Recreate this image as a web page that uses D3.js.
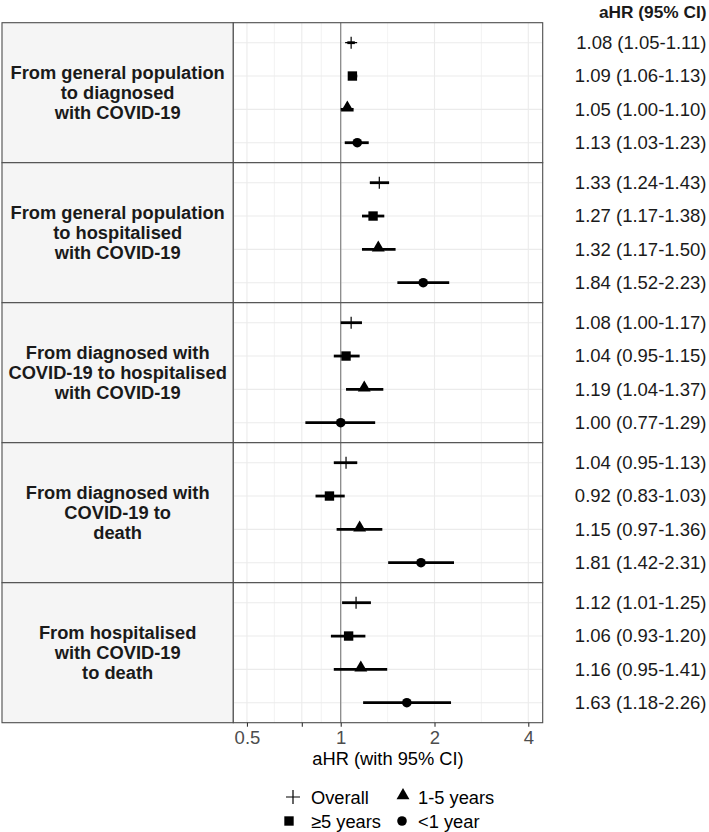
<!DOCTYPE html>
<html><head><meta charset="utf-8">
<script src="https://cdn.jsdelivr.net/npm/d3@7"></script>
<style>
body{margin:0;background:#fff;}
svg{display:block;font-family:"Liberation Sans",Arial,Helvetica,sans-serif;}
</style></head>
<body><svg id="chart" width="709" height="832"></svg>
<script>
const panels = [
  ["From general population","to diagnosed","with COVID-19"],
  ["From general population","to hospitalised","with COVID-19"],
  ["From diagnosed with","COVID-19 to hospitalised","with COVID-19"],
  ["From diagnosed with","COVID-19 to","death"],
  ["From hospitalised","with COVID-19","to death"]
];
const groups = ["Overall","≥5 years","1-5 years","<1 year"];
const hr = [
  [1.08,1.09,1.05,1.13],
  [1.33,1.27,1.32,1.84],
  [1.08,1.04,1.19,1.00],
  [1.04,0.92,1.15,1.81],
  [1.12,1.06,1.16,1.63]
];
const lo = [
  [1.05,1.06,1.00,1.03],
  [1.24,1.17,1.17,1.52],
  [1.00,0.95,1.04,0.77],
  [0.95,0.83,0.97,1.42],
  [1.01,0.93,0.95,1.18]
];
const hi = [
  [1.11,1.13,1.10,1.23],
  [1.43,1.38,1.50,2.23],
  [1.17,1.15,1.37,1.29],
  [1.13,1.03,1.36,2.31],
  [1.25,1.20,1.41,2.26]
];
const tickVals = [0.5,0.75,1,2,4];
const tickLabels = ["0.5","","1","2","4"];
const legendOrder = [["Overall","1-5 years"],["≥5 years","<1 year"]];

const svg = d3.select("#chart");
const stripL = 2, panelL = 233.3, panelR = 542.7, topY = 22.7, ph = 140;
const x = d3.scaleLog().domain([0.452,4.45]).range([panelL,panelR]);
const py = d3.scaleBand().domain(d3.range(panels.length)).range([topY, topY+ph*panels.length]);
const ry = d3.scalePoint().domain(groups).range([0,ph]).padding(0.6);

const shapeType = {"Overall":"plus","≥5 years":d3.symbolSquare,"1-5 years":d3.symbolTriangle,"<1 year":d3.symbolCircle};
const shapeSize = {"≥5 years":88,"1-5 years":72,"<1 year":72};
function drawShape(g, grp, cx, cy, r){
  r = r || 6;
  if(shapeType[grp]==="plus"){
    g.append("path").attr("d",`M${cx-r},${cy}H${cx+r}M${cx},${cy-r}V${cy+r}`)
     .attr("stroke","#000").attr("stroke-width",1.2).attr("fill","none");
  } else {
    let dy = grp==="1-5 years" ? -1.5 : 0;
    g.append("path").attr("d",d3.symbol().type(shapeType[grp]).size(shapeSize[grp])())
     .attr("transform",`translate(${cx},${cy+dy})`).attr("fill","#000");
  }
}

const minor = d3.pairs(tickVals).map(([a,b])=>Math.sqrt(a*b));

panels.forEach((lines,i)=>{
  const y0 = py(i);
  svg.append("rect").attr("x",stripL).attr("y",y0).attr("width",panelL-stripL).attr("height",ph)
    .attr("fill","#F5F5F5").attr("stroke","#4d4d4d").attr("stroke-width",1.1);
  const st = svg.append("text").attr("text-anchor","middle").attr("font-weight","bold")
    .attr("font-size",18.3).attr("fill","#1a1a1a");
  lines.forEach((t,j)=>{
    st.append("tspan").attr("x",(stripL+panelL)/2)
      .attr("y",y0+ph/2+(j-(lines.length-1)/2)*20+6.5).text(t);
  });
  svg.append("rect").attr("x",panelL).attr("y",y0).attr("width",panelR-panelL).attr("height",ph).attr("fill","#fff");
  minor.forEach(v=>{
    svg.append("line").attr("x1",x(v)).attr("x2",x(v)).attr("y1",y0).attr("y2",y0+ph)
      .attr("stroke","#F0F0F0").attr("stroke-width",0.8);
  });
  tickVals.forEach(v=>{
    svg.append("line").attr("x1",x(v)).attr("x2",x(v)).attr("y1",y0).attr("y2",y0+ph)
      .attr("stroke","#EBEBEB").attr("stroke-width",1.1);
  });
  groups.forEach(gp=>{
    svg.append("line").attr("x1",panelL).attr("x2",panelR).attr("y1",y0+ry(gp)).attr("y2",y0+ry(gp))
      .attr("stroke","#EBEBEB").attr("stroke-width",1.1);
  });
  svg.append("line").attr("x1",x(1)).attr("x2",x(1)).attr("y1",y0).attr("y2",y0+ph)
    .attr("stroke","#7a7a7a").attr("stroke-width",1.1);
  const g = svg.append("g");
  groups.forEach((gp,k)=>{
    const cy = y0+ry(gp);
    g.append("line").attr("x1",x(lo[i][k])).attr("x2",x(hi[i][k])).attr("y1",cy).attr("y2",cy)
      .attr("stroke","#000").attr("stroke-width",2.8);
    drawShape(g,gp,x(hr[i][k]),cy);
    svg.append("text").attr("x",706.5).attr("y",cy+6.3).attr("text-anchor","end")
      .attr("font-size",18.5).attr("fill","#1a1a1a")
      .text(`${hr[i][k].toFixed(2)} (${lo[i][k].toFixed(2)}-${hi[i][k].toFixed(2)})`);
  });
  svg.append("rect").attr("x",panelL).attr("y",y0).attr("width",panelR-panelL).attr("height",ph)
    .attr("fill","none").attr("stroke","#4d4d4d").attr("stroke-width",1.1);
});

svg.append("text").attr("x",706.5).attr("y",18).attr("text-anchor","end").attr("font-weight","bold")
  .attr("font-size",17.3).attr("fill","#1a1a1a").text("aHR (95% CI)");

const bottom = topY+ph*panels.length;
const ax = svg.append("g").attr("transform",`translate(0,${bottom})`)
  .call(d3.axisBottom(x).tickValues(tickVals).tickFormat((d,i)=>tickLabels[i]).tickSize(4).tickPadding(4));
ax.select(".domain").remove();
ax.selectAll(".tick line").attr("stroke","#333").attr("stroke-width",1.1);
ax.selectAll(".tick text").attr("font-size",18.5).attr("fill","#4d4d4d").attr("font-family","Liberation Sans, Arial, sans-serif");

svg.append("text").attr("x",(panelL+panelR)/2).attr("y",765).attr("text-anchor","middle")
  .attr("font-size",18.3).attr("fill","#000").text("aHR (with 95% CI)");

const colX = [[293,311],[403,418]];
const rowY = [797,821];
legendOrder.forEach((row,ri)=>{
  row.forEach((gp,ci)=>{
    const lg = svg.append("g");
    drawShape(lg,gp,colX[ci][0]-(gp==="≥5 years"?4:0)+(gp==="<1 year"?-1:0),rowY[ri],7);
    svg.append("text").attr("x",colX[ci][1]).attr("y",rowY[ri]+6.5).attr("font-size",18.3)
      .attr("fill","#000").text(gp);
  });
});
</script></body></html>
